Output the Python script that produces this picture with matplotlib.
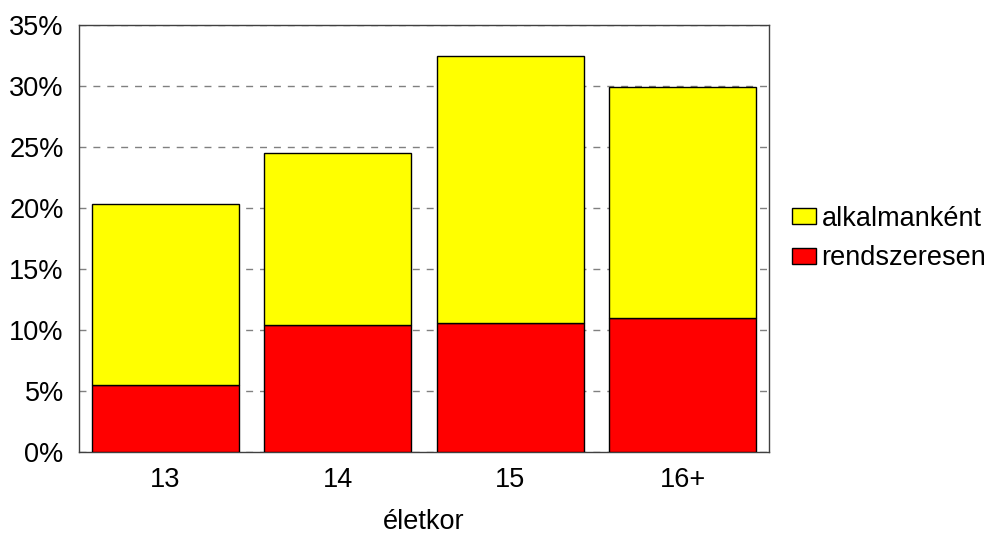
import numpy as np
import matplotlib.pyplot as plt
from matplotlib.ticker import PercentFormatter

# Adatok
korok = ['13', '14', '15', '16+']
rendszeresen = [5.5, 10.4, 10.6, 11.0]
alkalmankent = [14.8, 14.1, 21.85, 18.9]  # a rendszeresen fölé rakva

plt.rcParams['font.family'] = ['Liberation Sans', 'DejaVu Sans']
plt.rcParams['font.size'] = 19.5

fig = plt.figure(figsize=(9.92, 5.34), dpi=100)
ax = fig.add_axes([79 / 992, 1 - 452 / 534, 690 / 992, 427 / 534])

x = np.arange(len(korok))
ax.bar(x, rendszeresen, width=0.85, color='#ff0000', edgecolor='black',
       linewidth=1, label='rendszeresen', zorder=3)
ax.bar(x, alkalmankent, width=0.85, bottom=rendszeresen, color='#ffff00',
       edgecolor='black', linewidth=1, label='alkalmanként', zorder=3)

ax.set_xlim(-0.5, len(korok) - 0.5)
ax.set_ylim(0, 35)
ax.set_yticks(np.arange(0, 36, 5))
ax.yaxis.set_major_formatter(PercentFormatter(decimals=0))
ax.set_xticks(x)
ax.set_xticklabels(korok)
ax.tick_params(axis='y', length=0, pad=11)
ax.tick_params(axis='x', length=0, pad=11)
ax.yaxis.grid(True, linestyle=(0, (5, 5)), color='#808080', linewidth=1, zorder=0)
ax.set_axisbelow(True)
for s in ax.spines.values():
    s.set_color('#404040')
    s.set_linewidth(1)

ax.set_xlabel('életkor', labelpad=11)

# Legenda: alkalmanként felül
h, l = ax.get_legend_handles_labels()
ax.legend(h[::-1], l[::-1], loc='center left', bbox_to_anchor=(1.033, 0.5),
          frameon=False, handlelength=0.9, handleheight=0.55, handletextpad=0.2,
          labelspacing=0.5, borderpad=0, borderaxespad=0)

fig.savefig('out.png', dpi=100)
